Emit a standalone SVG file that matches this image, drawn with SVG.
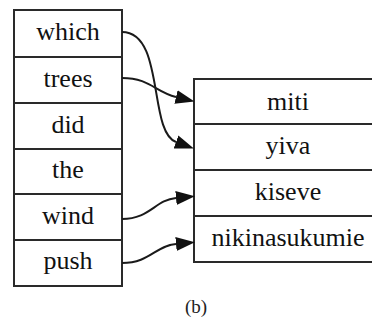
<svg xmlns="http://www.w3.org/2000/svg" width="372" height="329" viewBox="0 0 372 329">
  <style>
    .cell { fill: #ffffff; stroke: #2a2a2a; stroke-width: 2; }
    .lbl { font-family: "Liberation Serif", "Times New Roman", serif; font-size: 26px; fill: #111111; text-anchor: middle; }
    .edge { fill: none; stroke: #1a1a1a; stroke-width: 2; }
    .cap { font-family: "Liberation Serif", "Times New Roman", serif; font-size: 19px; fill: #222222; text-anchor: middle; }
  </style>
  <defs>
    <marker id="arrow" viewBox="0 0 19 14" refX="0" refY="7" markerWidth="19" markerHeight="14" markerUnits="userSpaceOnUse" orient="auto">
      <path d="M0,0 L19,7 L0,14 Z" fill="#111111"/>
    </marker>
  </defs>

  <!-- source sentence (English) -->
  <g id="src">
    <g id="src-which"><rect class="cell" x="14" y="10" width="108" height="47"/><text class="lbl" x="68" y="40">which</text></g>
    <g id="src-trees"><rect class="cell" x="14" y="57" width="108" height="46"/><text class="lbl" x="68" y="87">trees</text></g>
    <g id="src-did"><rect class="cell" x="14" y="103" width="108" height="46"/><text class="lbl" x="68" y="133">did</text></g>
    <g id="src-the"><rect class="cell" x="14" y="149" width="108" height="45"/><text class="lbl" x="68" y="178">the</text></g>
    <g id="src-wind"><rect class="cell" x="14" y="194" width="108" height="46"/><text class="lbl" x="68" y="224">wind</text></g>
    <g id="src-push"><rect class="cell" x="14" y="240" width="108" height="46"/><text class="lbl" x="68" y="269">push</text></g>
  </g>

  <!-- target sentence (Swahili) -->
  <g id="tgt">
    <g id="tgt-miti"><rect class="cell" x="194" y="79" width="190" height="45"/><text class="lbl" x="288" y="110">miti</text></g>
    <g id="tgt-yiva"><rect class="cell" x="194" y="124" width="190" height="46"/><text class="lbl" x="288" y="154">yiva</text></g>
    <g id="tgt-kiseve"><rect class="cell" x="194" y="170" width="190" height="46"/><text class="lbl" x="288" y="200">kiseve</text></g>
    <g id="tgt-nikinasukumie"><rect class="cell" x="194" y="216" width="190" height="46"/><text class="lbl" x="288" y="246">nikinasukumie</text></g>
  </g>

  <!-- alignment links -->
  <g id="links">
    <path class="edge" marker-end="url(#arrow)" d="M122,32 C165,32 148,132 176,142"/>
    <path class="edge" marker-end="url(#arrow)" d="M122,78 C150,78 155,92 176,97"/>
    <path class="edge" marker-end="url(#arrow)" d="M122,219 C150,219 155,200 176,198"/>
    <path class="edge" marker-end="url(#arrow)" d="M122,263 C150,263 155,246 176,244"/>
  </g>

  <text class="cap" x="196" y="313">(b)</text>
</svg>
